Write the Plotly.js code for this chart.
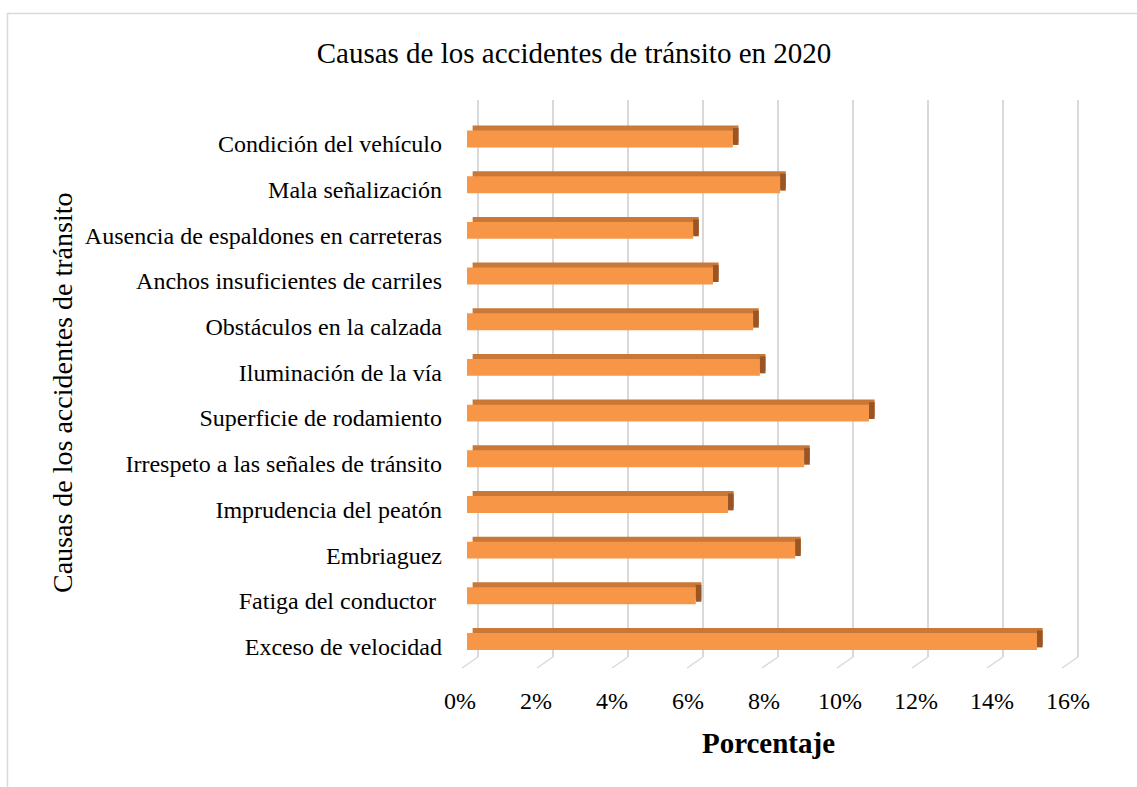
<!DOCTYPE html>
<html>
<head>
<meta charset="utf-8">
<script src="https://cdn.plot.ly/plotly-3.0.1.min.js"></script>
<style>html,body{margin:0;padding:0;background:#fff;}#chart{width:1137px;height:787px;}</style>
</head>
<body>
<div id="chart"></div>
<script>
// ---- data (top-to-bottom as displayed) ----
const categories = [
  "Condición del vehículo",
  "Mala señalización",
  "Ausencia de espaldones en carreteras",
  "Anchos insuficientes de carriles",
  "Obstáculos en la calzada",
  "Iluminación de la vía",
  "Superficie de rodamiento",
  "Irrespeto a las señales de tránsito",
  "Imprudencia del peatón",
  "Embriaguez",
  "Fatiga del conductor ",
  "Exceso de velocidad"
];
const values = [7.09, 8.35, 6.03, 6.56, 7.63, 7.81, 10.72, 8.99, 6.96, 8.75, 6.10, 15.20];
const tickValues = [0, 2, 4, 6, 8, 10, 12, 14, 16];
const tickLabels = ["0%", "2%", "4%", "6%", "8%", "10%", "12%", "14%", "16%"];
const chartTitle = "Causas de los accidentes de tránsito en 2020";
const yTitle = "Causas de los accidentes de tránsito";
const xTitle = "Porcentaje";

// ---- layout geometry (pixels) ----
const W = 1137, H = 787;
const L = 447, R = 1090, T = 100, B = 657;
const pxPerUnitBack = 37.5, pxPerUnitFront = 38;
const barZeroPx = 467, gridZeroPx = 478, labelZeroPx = 460;
const rowPx = 45.68, topRowPx = 139;
const nCat = categories.length;

const xr = (zero, s) => [(L - zero) / s, (R - zero) / s];
const yMax = (nCat - 1) + (topRowPx - T) / rowPx;
const yMin = yMax - (B - T) / rowPx;
const paperX = px => (px - L) / (R - L);
const paperY = py => (B - py) / (B - T);

const depthX = 0.15, depthY = 0.11, barW = 0.37;
const font = "Liberation Serif, Times New Roman, serif";

const back = {
  type: "bar", orientation: "h", y: categories, x: values,
  base: values.map(() => depthX), width: barW, offset: -barW / 2 + depthY,
  marker: {color: "#C97838", line: {width: 0}}, hoverinfo: "skip", showlegend: false
};
const side = {
  type: "bar", orientation: "h", y: categories, x: values.map(() => depthX),
  base: values, width: barW, offset: -barW / 2 + depthY / 2,
  marker: {color: "#9A5524", line: {width: 0}}, hoverinfo: "skip", showlegend: false
};
const front = {
  type: "bar", orientation: "h", y: categories, x: values,
  width: barW, offset: -barW / 2,
  marker: {color: "#F79646", line: {width: 0}}, showlegend: false,
  hovertemplate: "%{y}: %{x:.2f}%<extra></extra>"
};
const dummy2 = {type: "scatter", x: [], y: [], xaxis: "x2", yaxis: "y", showlegend: false, hoverinfo: "skip"};
const dummy3 = {type: "scatter", x: [], y: [], xaxis: "x3", yaxis: "y", showlegend: false, hoverinfo: "skip"};

// slanted floor gridlines (back wall -> front edge)
const floorDx = -16 / pxPerUnitBack, floorDyPaper = paperY(668);
const shapes = tickValues.map(t => ({
  type: "line", xref: "x2", yref: "paper",
  x0: t, y0: 0, x1: t + floorDx, y1: floorDyPaper,
  line: {color: "#D9D9D9", width: 1.5}, layer: "below"
}));
// outer chart border
shapes.push({
  type: "rect", xref: "paper", yref: "paper",
  x0: paperX(7.5), x1: paperX(W + 10), y0: paperY(13.5), y1: paperY(H + 10),
  line: {color: "#D9D9D9", width: 1.5}, fillcolor: "rgba(0,0,0,0)", layer: "below"
});

const layout = {
  width: W, height: H,
  margin: {l: L, r: W - R, t: T, b: H - B, pad: 0},
  paper_bgcolor: "#ffffff", plot_bgcolor: "#ffffff",
  barmode: "overlay",
  font: {family: font, color: "#000000", size: 24},
  title: {
    text: chartTitle, font: {family: font, size: 29, color: "#000000"},
    x: 574 / W, xref: "container", xanchor: "center",
    y: 1 - 53 / H, yref: "container", yanchor: "middle"
  },
  xaxis: {
    range: xr(barZeroPx, pxPerUnitBack), showgrid: false, zeroline: false,
    showticklabels: false, showline: false, ticks: "", fixedrange: true
  },
  xaxis2: {
    overlaying: "x", anchor: "y", side: "bottom",
    range: xr(gridZeroPx, pxPerUnitBack), tickmode: "array", tickvals: tickValues,
    showgrid: true, gridcolor: "#D9D9D9", gridwidth: 1.5, zeroline: false,
    showticklabels: false, showline: false, ticks: ""
  },
  xaxis3: {
    overlaying: "x", anchor: "y", side: "bottom",
    range: xr(labelZeroPx, pxPerUnitFront), tickmode: "array",
    tickvals: tickValues, ticktext: tickLabels,
    showgrid: false, zeroline: false, showline: false,
    ticks: "outside", ticklen: 22, tickcolor: "rgba(0,0,0,0)",
    tickfont: {family: font, size: 24, color: "#000000"},
    title: {text: "<b>" + xTitle + "</b>", font: {family: font, size: 29, color: "#000000"}, standoff: 19}
  },
  yaxis: {
    type: "category", categoryorder: "array", categoryarray: categories.slice().reverse(),
    range: [yMin, yMax], showgrid: false, zeroline: false, showline: false,
    ticks: "", ticklabelstandoff: 4, ticklabelshift: 5,
    tickfont: {family: font, size: 24, color: "#000000"}, fixedrange: true
  },
  shapes: shapes,
  annotations: [{
    text: yTitle, textangle: -90, xref: "paper", yref: "paper",
    x: paperX(62), y: paperY(393), xanchor: "center", yanchor: "middle",
    showarrow: false, font: {family: font, size: 28, color: "#000000"}
  }]
};

Plotly.newPlot("chart", [dummy2, dummy3, back, side, front], layout, {displayModeBar: false, staticPlot: true});
</script>
</body>
</html>
